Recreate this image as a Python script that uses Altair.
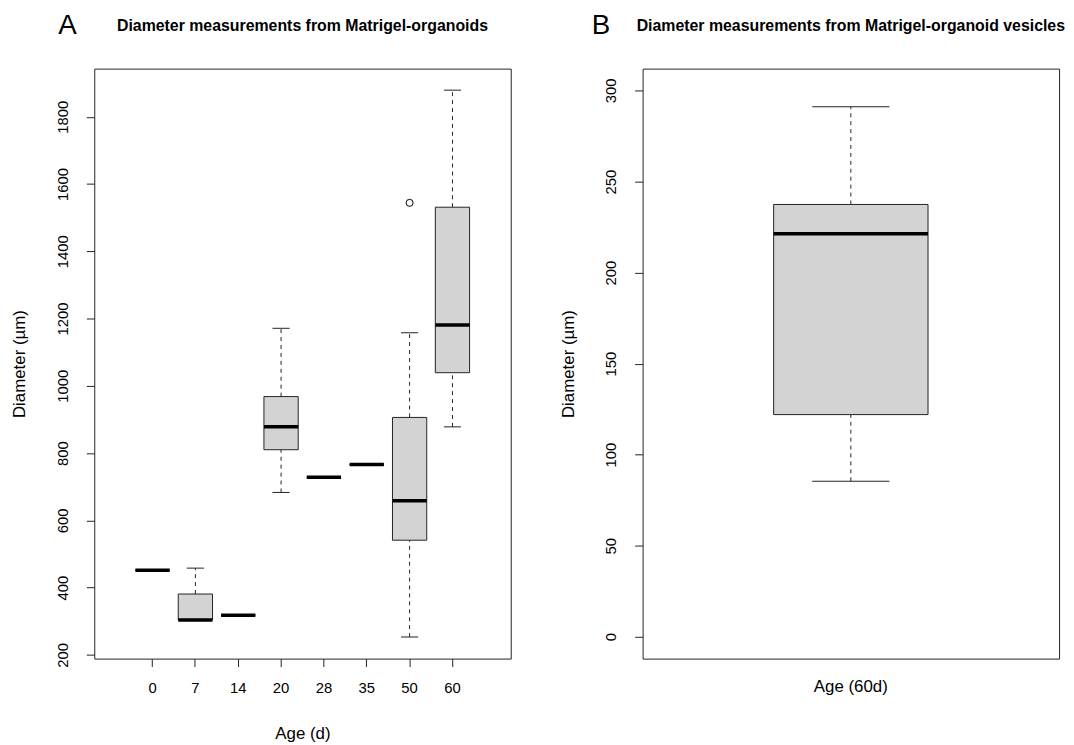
import altair as alt
import pandas as pd

# ---- Panel A data (Age in days, diameter in µm) ----
days = ["0", "7", "14", "20", "28", "35", "50", "60"]
whisk_lo = [452, 302, 318, 683, 728, 766, 253, 878]
q1 = [452, 304, 318, 810, 728, 766, 541, 1039]
median = [452, 304, 318, 878, 728, 766, 658, 1181]
q3 = [452, 381, 318, 968, 728, 766, 906, 1531]
whisk_hi = [452, 458, 318, 1171, 728, 766, 1158, 1879]
outlier_days = ["50"]
outlier_vals = [1544]
yticks_a = [200, 400, 600, 800, 1000, 1200, 1400, 1600, 1800]

# ---- Panel B data (vesicles, 60 d) ----
b_cat = ["Age (60d)"]
b_lo = [85.4]
b_q1 = [122.0]
b_med = [221.3]
b_q3 = [237.4]
b_hi = [291.1]
yticks_b = [0, 50, 100, 150, 200, 250, 300]

FONT = "Liberation Sans"
FILL = "#d3d3d3"
LINE = "#222222"
W, H = 420, 595

dfa = pd.DataFrame({"day": days, "lo": whisk_lo, "q1": q1, "med": median,
                    "q3": q3, "hi": whisk_hi})
dfo = pd.DataFrame({"day": outlier_days, "val": outlier_vals})
dfb = pd.DataFrame({"cat": b_cat, "lo": b_lo, "q1": b_q1, "med": b_med,
                    "q3": b_q3, "hi": b_hi})


def panel(df, xfield, xscale, xaxis, yscale, yaxis, box_w, letter, letter_dx,
          title, extra=None):
    x = alt.X(f"{xfield}:N", sort=list(df[xfield]), scale=xscale, axis=xaxis)
    base = alt.Chart(df)
    box = base.mark_bar(fill=FILL, stroke=LINE, strokeWidth=1, opacity=1).encode(
        x=x, y=alt.Y("q1:Q", scale=yscale, axis=yaxis), y2="q3:Q")
    wh_up = base.mark_rule(color=LINE, strokeDash=[4, 4], strokeWidth=1).encode(
        x=x, y="q3:Q", y2="hi:Q")
    wh_dn = base.mark_rule(color=LINE, strokeDash=[4, 4], strokeWidth=1).encode(
        x=x, y="lo:Q", y2="q1:Q")
    st_up = base.mark_tick(color=LINE, thickness=1, size=box_w / 2, orient="horizontal",
                           opacity=1).encode(x=x, y="hi:Q")
    st_dn = base.mark_tick(color=LINE, thickness=1, size=box_w / 2, orient="horizontal",
                           opacity=1).encode(x=x, y="lo:Q")
    med = base.mark_tick(color="black", thickness=3.5, size=box_w, orient="horizontal",
                         opacity=1).encode(x=x, y="med:Q")
    lab = alt.Chart(pd.DataFrame({"t": [letter]})).mark_text(
        font=FONT, fontSize=28, align="center", baseline="middle", color="black"
    ).encode(x=alt.value(letter_dx), y=alt.value(-43), text="t:N")
    ttl = alt.Chart(pd.DataFrame({"t": [title]})).mark_text(
        font=FONT, fontSize=16, fontWeight="bold", align="center",
        baseline="middle", color="black"
    ).encode(x=alt.value(W / 2), y=alt.value(-43), text="t:N")
    layers = [wh_up, wh_dn, st_up, st_dn, box, med]
    if extra is not None:
        layers.append(extra)
    layers += [lab, ttl]
    return alt.layer(*layers).properties(width=W, height=H)


common_axis = dict(domain=False, grid=False, tickColor=LINE, tickSize=8,
                   labelFont=FONT, labelFontSize=15, labelColor="black",
                   titleFont=FONT, titleFontSize=17, titleColor="black",
                   titleFontWeight="normal")

# Panel A
xscale_a = alt.Scale(paddingInner=0.2, paddingOuter=0.96)
xaxis_a = alt.Axis(title="Age (d)", labelAngle=0, labelPadding=14, titlePadding=31,
                   **common_axis)
yscale_a = alt.Scale(domain=[189, 1943], nice=False, zero=False)
yaxis_a = alt.Axis(title="Diameter (µm)", values=yticks_a, labelAngle=270, format="d",
                   labelPadding=16, titlePadding=27, **common_axis)
outl = alt.Chart(dfo).mark_point(shape="circle", filled=False, size=50, opacity=1,
                                 color="black", strokeWidth=1).encode(
    x=alt.X("day:N", sort=days, scale=xscale_a, axis=xaxis_a),
    y=alt.Y("val:Q", scale=yscale_a))
bw_a = W / (len(days) - 0.2 + 2 * 0.96) * 0.8
chart_a = panel(dfa, "day", xscale_a, xaxis_a, yscale_a, yaxis_a, bw_a, "A", -27,
                "Diameter measurements from Matrigel-organoids", extra=outl)

# Panel B
xscale_b = alt.Scale(paddingInner=0.2, paddingOuter=0.679)
axis_b_x = {k: v for k, v in common_axis.items() if k not in ("tickSize", "labelFontSize")}
xaxis_b = alt.Axis(title=None, labelAngle=0, labelPadding=20, ticks=False,
                   labelFontSize=17, **axis_b_x)
yscale_b = alt.Scale(domain=[-12, 312], nice=False, zero=False)
yaxis_b = alt.Axis(title="Diameter (µm)", values=yticks_b, labelAngle=270, format="d",
                   labelPadding=16, titlePadding=27, **common_axis)
bw_b = W / (1 - 0.2 + 2 * 0.679) * 0.8
chart_b = panel(dfb, "cat", xscale_b, xaxis_b, yscale_b, yaxis_b, bw_b, "B", -42,
                "Diameter measurements from Matrigel-organoid vesicles")

chart = alt.hconcat(chart_a, chart_b, spacing=47).configure_view(
    stroke=LINE, strokeWidth=1).properties(
    padding={"left": 2, "top": 0, "right": 0, "bottom": 0})

chart.save("out.html", embed_options={"renderer": "svg", "actions": False})
